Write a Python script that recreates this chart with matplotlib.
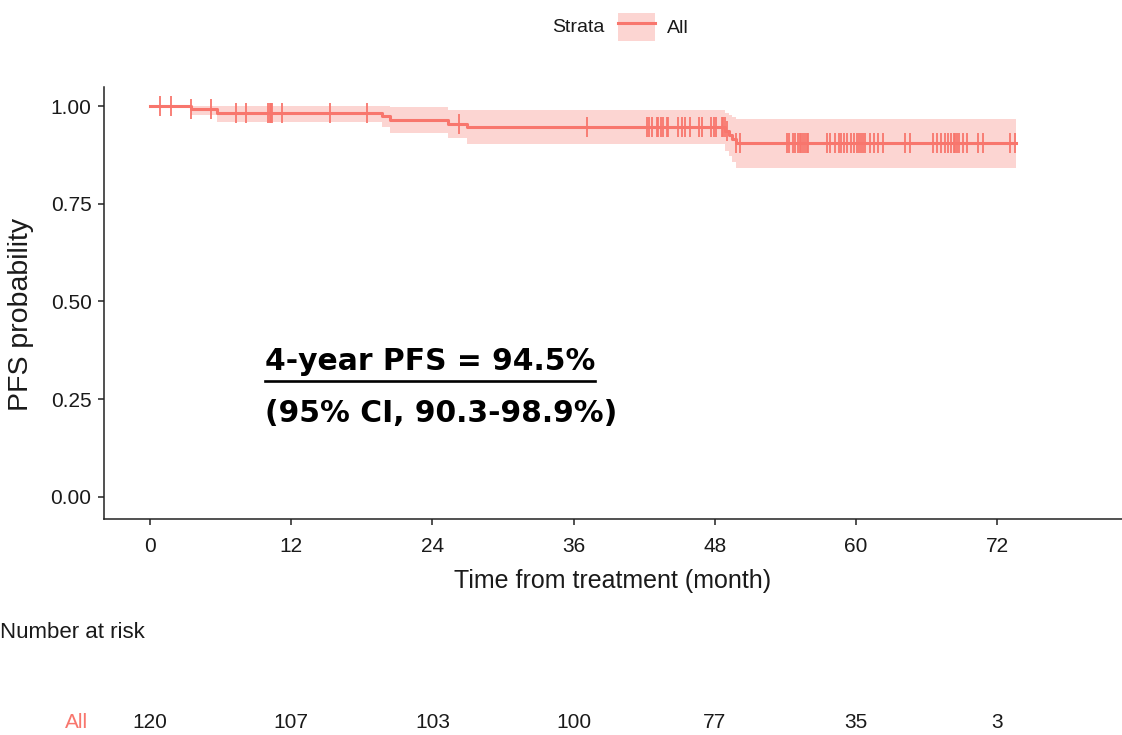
import numpy as np
import matplotlib
matplotlib.use("Agg")
import matplotlib.pyplot as plt
from matplotlib.patches import Patch
from matplotlib.lines import Line2D
from matplotlib.transforms import blended_transform_factory

plt.rcParams['font.family'] = ['Liberation Sans', 'DejaVu Sans']

# ---------------- data ----------------
event_times = [0, 3.5, 5.7, 19.7, 20.4, 25.3, 26.9, 48.9, 49.2, 49.5, 49.8]
surv = [1.0, 0.992, 0.983, 0.974, 0.965, 0.955, 0.946, 0.935, 0.925, 0.915, 0.906]
ci_upper = [1.0, 1.0, 1.0, 1.0, 0.997, 0.991, 0.989, 0.982, 0.977, 0.972, 0.968]
ci_lower = [1.0, 0.977, 0.960, 0.946, 0.931, 0.917, 0.903, 0.886, 0.871, 0.856, 0.841]
end_time = 73.6

censor_times = [0.85, 1.76, 3.5, 5.15, 7.3, 8.15, 10.05, 10.2, 10.3, 10.4, 11.2,
                15.3, 18.45, 26.25, 37.1,
                42.25, 42.4, 42.7, 43.05, 43.2, 43.4, 43.6, 43.9, 44.05, 44.9,
                45.2, 45.45, 45.9, 46.65, 46.9, 47.7, 47.9, 48.1, 48.6, 48.7,
                48.85, 49.0, 49.8, 50.1,
                54.15, 54.3, 54.65, 54.8, 55.1, 55.2, 55.35, 55.5, 55.65, 55.8, 55.9,
                57.5, 57.8, 58.2, 58.55, 58.75, 58.95, 59.2, 59.6, 59.8,
                60.05, 60.25, 60.45, 60.6, 60.75, 61.15, 61.5, 61.9, 62.3,
                64.15, 64.6,
                66.55, 66.9, 67.25, 67.55, 67.8, 68.1, 68.3, 68.45, 68.6, 68.75,
                69.1, 69.4, 70.4, 70.8, 73.05, 73.5]

risk_times = [0, 12, 24, 36, 48, 60, 72]
risk_counts = [120, 107, 103, 100, 77, 35, 3]
x_ticks = [0, 12, 24, 36, 48, 60, 72]
y_ticks = [0.0, 0.25, 0.50, 0.75, 1.00]
y_ticklabels = ["0.00", "0.25", "0.50", "0.75", "1.00"]

strata_label = "All"
annot_line1 = "4-year PFS = 94.5%"
annot_line2 = "(95% CI, 90.3-98.9%)"

# ---------------- style ----------------
RED = "#F8766D"
TXT = '#1a1a1a'
W, H = 1122, 735
fig = plt.figure(figsize=(W / 100, H / 100), dpi=100)
ax = fig.add_axes([104 / W, 1 - 519 / H, (W - 104) / W, (519 - 86.5) / H])

# step arrays extended to the last follow-up time
t_step = list(event_times) + [end_time]
s_step = list(surv) + [surv[-1]]
u_step = list(ci_upper) + [ci_upper[-1]]
l_step = list(ci_lower) + [ci_lower[-1]]

ax.fill_between(t_step, l_step, u_step, step='post', color=RED, alpha=0.3,
                linewidth=0)
ax.step(t_step, s_step, where='post', color=RED, lw=2.2)

# censor marks on the curve
idx = np.searchsorted(event_times, censor_times, side='right') - 1
cens_y = np.array(surv)[idx]
ax.plot(censor_times, cens_y, linestyle='none', marker='|', color=RED,
        markersize=14, markeredgewidth=1.3)

ax.set_xlim(-3.91, 82.6)
ax.set_ylim(-0.057, 1.05)
ax.set_xticks(x_ticks)
ax.set_xticklabels([str(v) for v in x_ticks])
ax.set_yticks(y_ticks)
ax.set_yticklabels(y_ticklabels)
for s in ['top', 'right']:
    ax.spines[s].set_visible(False)
for s in ['left', 'bottom']:
    ax.spines[s].set_linewidth(1.1)
    ax.spines[s].set_color('#222222')
ax.tick_params(axis='both', length=4, width=1.1, color='#222222',
               labelsize=15, labelcolor=TXT)
ax.tick_params(axis='x', pad=9)
ax.tick_params(axis='y', pad=5)
ax.set_xlabel("Time from treatment (month)", fontsize=18, color=TXT,
              labelpad=9)
ax.set_ylabel("PFS probability", fontsize=20.5, color=TXT)
ax.yaxis.set_label_coords(-0.0688, 0.472)

# legend at top
fig.text(552 / W, 1 - 27 / H, "Strata", fontsize=14, ha='left', va='center',
         color=TXT)
handle = (Patch(facecolor=RED, alpha=0.3, edgecolor='none'),
          Line2D([0], [0], color=RED, lw=2.2))
fig.legend([handle], [strata_label], loc='center left',
           bbox_to_anchor=(600 / W, 1 - 27 / H), frameon=False, fontsize=14,
           handlelength=1.95, handleheight=1.9, handletextpad=0.6,
           labelcolor=TXT)

# annotation (bold, underlined first line)
afam = ['DejaVu Sans']
t1 = fig.text(265 / W, 1 - 370 / H, annot_line1, fontsize=20,
              fontweight='bold', family=afam,
              ha='left', va='baseline', color='black')
t2 = fig.text(265 / W, 1 - 422 / H, annot_line2, fontsize=20,
              fontweight='bold', family=afam,
              ha='left', va='baseline', color='black')
fig.canvas.draw()
w1 = t1.get_window_extent().width
w2 = t2.get_window_extent().width
fs = 20 * (318.0 + 363.0) / (w1 + w2)
t1.set_fontsize(fs)
t2.set_fontsize(fs)
fig.canvas.draw()
bb = t1.get_window_extent()
fig.add_artist(Line2D([bb.x0 / W, bb.x1 / W], [(1 - 381 / H)] * 2,
                      transform=fig.transFigure, color='black', lw=1.9))

# number at risk table
fig.text(0 / W, 1 - 632 / H, "Number at risk", fontsize=16, ha='left',
         va='center', color=TXT)
tr = blended_transform_factory(ax.transData, fig.transFigure)
fig.text(88 / W, 1 - 722 / H, strata_label, fontsize=15, ha='right',
         va='center', color=RED)
for t, n in zip(risk_times, risk_counts):
    fig.text(t, 1 - 722 / H, str(n), transform=tr, fontsize=15, ha='center',
             va='center', color=TXT)

fig.savefig("out.png", dpi=100)
